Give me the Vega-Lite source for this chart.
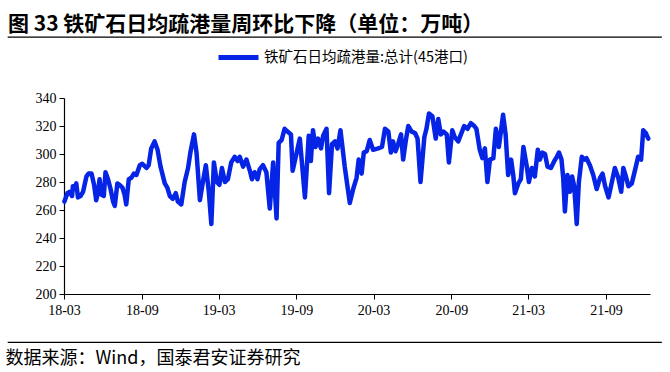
{
  "$schema": "https://vega.github.io/schema/vega-lite/v6.json",
  "autosize": {"type": "none"},
  "padding": {"left": 64, "top": 98, "right": 20, "bottom": 78},
  "width": 586,
  "height": 196,
  "background": "white",
  "config": {"view": {"stroke": null}, "font": "Liberation Serif", "axisY": {"labelOverlap": false}},
  "title": {
    "text": "图 33 铁矿石日均疏港量周环比下降（单位：万吨）",
    "anchor": "start",
    "frame": "group",
    "font": "Noto Sans CJK SC",
    "fontSize": 21,
    "fontWeight": "bold",
    "color": "black",
    "dx": -56,
    "offset": 0
  },
  "resolve": {"axis": {"x": "independent", "y": "independent"}},
  "layer": [
    {
      "data": {"values": [{}]},
      "mark": {"type": "rule", "color": "black", "strokeWidth": 1.4},
      "encoding": {
        "x": {"datum": {"year": 2017, "month": 10, "date": 19, "utc": true}, "type": "temporal", "axis": null},
        "x2": {"datum": {"year": 2022, "month": 1, "date": 11, "utc": true}},
        "y": {"datum": 383.5, "type": "quantitative", "axis": null}
      }
    },
    {
      "data": {"values": [{}]},
      "mark": {"type": "rule", "color": "black", "strokeWidth": 1.3},
      "encoding": {
        "x": {"datum": {"year": 2017, "month": 10, "date": 19, "utc": true}, "type": "temporal", "axis": null},
        "x2": {"datum": {"year": 2022, "month": 1, "date": 11, "utc": true}},
        "y": {"datum": 165.5, "type": "quantitative", "axis": null}
      }
    },
    {
      "data": {"values": [
        {"d":"2018-03-02","v":266},{"d":"2018-03-09","v":272},{"d":"2018-03-14","v":273},{"d":"2018-03-20","v":270},{"d":"2018-03-22","v":277},{"d":"2018-03-26","v":275},{"d":"2018-03-30","v":279},{"d":"2018-04-03","v":269},{"d":"2018-04-09","v":270},{"d":"2018-04-15","v":273},{"d":"2018-04-23","v":284},{"d":"2018-04-28","v":286},{"d":"2018-05-05","v":286},{"d":"2018-05-11","v":278},{"d":"2018-05-16","v":267},{"d":"2018-05-20","v":272},{"d":"2018-05-24","v":282},{"d":"2018-05-28","v":271},{"d":"2018-06-03","v":270},{"d":"2018-06-07","v":287},{"d":"2018-06-13","v":282},{"d":"2018-06-19","v":275},{"d":"2018-06-25","v":266},{"d":"2018-06-29","v":263},{"d":"2018-07-05","v":279},{"d":"2018-07-10","v":278},{"d":"2018-07-17","v":276},{"d":"2018-07-22","v":271},{"d":"2018-07-26","v":264},{"d":"2018-08-01","v":282},{"d":"2018-08-07","v":283},{"d":"2018-08-13","v":286},{"d":"2018-08-19","v":285},{"d":"2018-08-27","v":292},{"d":"2018-09-02","v":293},{"d":"2018-09-12","v":290},{"d":"2018-09-17","v":292},{"d":"2018-09-23","v":304},{"d":"2018-10-01","v":309},{"d":"2018-10-08","v":303},{"d":"2018-10-15","v":291},{"d":"2018-10-25","v":279},{"d":"2018-10-31","v":276},{"d":"2018-11-06","v":270},{"d":"2018-11-13","v":268},{"d":"2018-11-20","v":272},{"d":"2018-11-25","v":266},{"d":"2018-12-03","v":264},{"d":"2018-12-11","v":280},{"d":"2018-12-19","v":290},{"d":"2018-12-25","v":302},
        {"d":"2019-01-02","v":314},{"d":"2019-01-08","v":301},{"d":"2019-01-16","v":267},{"d":"2019-01-23","v":280},{"d":"2019-01-30","v":292},{"d":"2019-02-06","v":273},{"d":"2019-02-12","v":250},{"d":"2019-02-18","v":294},{"d":"2019-02-25","v":280},{"d":"2019-03-03","v":278},{"d":"2019-03-09","v":290},{"d":"2019-03-16","v":280},{"d":"2019-03-23","v":282},{"d":"2019-03-31","v":294},{"d":"2019-04-08","v":298},{"d":"2019-04-15","v":295},{"d":"2019-04-20","v":298},{"d":"2019-04-28","v":291},{"d":"2019-05-06","v":296},{"d":"2019-05-14","v":288},{"d":"2019-05-19","v":282},{"d":"2019-05-25","v":287},{"d":"2019-06-01","v":282},{"d":"2019-06-06","v":289},{"d":"2019-06-14","v":292},{"d":"2019-06-22","v":287},{"d":"2019-06-30","v":261},{"d":"2019-07-08","v":294},{"d":"2019-07-16","v":254},{"d":"2019-07-21","v":308},{"d":"2019-07-28","v":310},{"d":"2019-08-04","v":318},{"d":"2019-08-11","v":316},{"d":"2019-08-19","v":314},{"d":"2019-08-23","v":288},{"d":"2019-09-09","v":311},{"d":"2019-09-21","v":269},{"d":"2019-09-30","v":313},{"d":"2019-10-05","v":295},{"d":"2019-10-10","v":317},{"d":"2019-10-16","v":305},{"d":"2019-10-22","v":311},{"d":"2019-10-29","v":304},{"d":"2019-11-03","v":313},{"d":"2019-11-11","v":318},{"d":"2019-11-17","v":272},{"d":"2019-11-24","v":307},{"d":"2019-12-01","v":309},{"d":"2019-12-07","v":304},{"d":"2019-12-14","v":317},{"d":"2019-12-24","v":291},
        {"d":"2020-01-05","v":265},{"d":"2020-01-13","v":275},{"d":"2020-01-21","v":283},{"d":"2020-01-26","v":296},{"d":"2020-02-02","v":286},{"d":"2020-02-07","v":301},{"d":"2020-02-14","v":302},{"d":"2020-02-21","v":310},{"d":"2020-02-29","v":303},{"d":"2020-03-12","v":304},{"d":"2020-03-21","v":305},{"d":"2020-03-28","v":318},{"d":"2020-04-05","v":316},{"d":"2020-04-11","v":301},{"d":"2020-04-16","v":309},{"d":"2020-04-22","v":302},{"d":"2020-04-28","v":307},{"d":"2020-05-05","v":314},{"d":"2020-05-10","v":296},{"d":"2020-05-16","v":309},{"d":"2020-05-22","v":320},{"d":"2020-05-30","v":316},{"d":"2020-06-07","v":315},{"d":"2020-06-13","v":311},{"d":"2020-06-20","v":280},{"d":"2020-06-29","v":312},{"d":"2020-07-04","v":318},{"d":"2020-07-10","v":329},{"d":"2020-07-18","v":327},{"d":"2020-07-26","v":311},{"d":"2020-08-01","v":325},{"d":"2020-08-07","v":314},{"d":"2020-08-13","v":316},{"d":"2020-08-21","v":314},{"d":"2020-08-26","v":294},{"d":"2020-09-03","v":317},{"d":"2020-09-09","v":312},{"d":"2020-09-17","v":309},{"d":"2020-09-26","v":316},{"d":"2020-10-01","v":320},{"d":"2020-10-09","v":318},{"d":"2020-10-17","v":322},{"d":"2020-10-25","v":320},{"d":"2020-10-30","v":318},{"d":"2020-11-07","v":303},{"d":"2020-11-13","v":297},{"d":"2020-11-19","v":304},{"d":"2020-11-25","v":280},{"d":"2020-12-01","v":296},{"d":"2020-12-09","v":297},{"d":"2020-12-15","v":318},{"d":"2020-12-22","v":305},{"d":"2020-12-29","v":321},
        {"d":"2021-01-01","v":328},{"d":"2021-01-07","v":314},{"d":"2021-01-13","v":285},{"d":"2021-01-20","v":296},{"d":"2021-01-25","v":285},{"d":"2021-01-29","v":272},{"d":"2021-02-06","v":279},{"d":"2021-02-12","v":282},{"d":"2021-02-18","v":305},{"d":"2021-02-26","v":291},{"d":"2021-03-03","v":280},{"d":"2021-03-10","v":290},{"d":"2021-03-17","v":284},{"d":"2021-03-24","v":303},{"d":"2021-03-29","v":296},{"d":"2021-04-04","v":301},{"d":"2021-04-10","v":300},{"d":"2021-04-16","v":291},{"d":"2021-04-24","v":290},{"d":"2021-05-02","v":295},{"d":"2021-05-08","v":298},{"d":"2021-05-13","v":301},{"d":"2021-05-19","v":296},{"d":"2021-05-23","v":283},{"d":"2021-05-27","v":259},{"d":"2021-06-02","v":285},{"d":"2021-06-08","v":273},{"d":"2021-06-13","v":284},{"d":"2021-06-18","v":277},{"d":"2021-06-24","v":250},{"d":"2021-06-29","v":280},{"d":"2021-07-06","v":298},{"d":"2021-07-12","v":296},{"d":"2021-07-17","v":297},{"d":"2021-07-25","v":292},{"d":"2021-08-02","v":285},{"d":"2021-08-10","v":275},{"d":"2021-08-18","v":283},{"d":"2021-08-24","v":286},{"d":"2021-08-30","v":277},{"d":"2021-09-07","v":269},{"d":"2021-09-15","v":280},{"d":"2021-09-22","v":290},{"d":"2021-09-30","v":283},{"d":"2021-10-07","v":273},{"d":"2021-10-12","v":290},{"d":"2021-10-18","v":284},{"d":"2021-10-24","v":277},{"d":"2021-11-01","v":279},{"d":"2021-11-09","v":289},{"d":"2021-11-16","v":298},{"d":"2021-11-23","v":296},{"d":"2021-11-28","v":317},{"d":"2021-12-04","v":315},{"d":"2021-12-10","v":311}
      ]},
      "mark": {"type": "line", "strokeWidth": 4.5, "strokeJoin": "round", "strokeCap": "round"},
      "encoding": {
        "x": {
          "field": "d",
          "type": "temporal",
          "scale": {"type": "utc", "domain": [{"year": 2018, "month": 3, "date": 1, "utc": true}, {"year": 2021, "month": 12, "date": 14, "utc": true}]},
          "axis": {
            "values": [
              {"year": 2018, "month": 3, "date": 1, "utc": true},
              {"year": 2018, "month": 9, "date": 1, "utc": true},
              {"year": 2019, "month": 3, "date": 1, "utc": true},
              {"year": 2019, "month": 9, "date": 1, "utc": true},
              {"year": 2020, "month": 3, "date": 1, "utc": true},
              {"year": 2020, "month": 9, "date": 1, "utc": true},
              {"year": 2021, "month": 3, "date": 1, "utc": true},
              {"year": 2021, "month": 9, "date": 1, "utc": true}
            ],
            "format": "%y-%m",
            "grid": false,
            "domainColor": "black",
            "domainWidth": 1.2,
            "tickColor": "black",
            "tickSize": 5,
            "labelFont": "Liberation Serif",
            "labelFontSize": 14,
            "labelColor": "black",
            "labelPadding": 4,
            "labelFlush": false,
            "labelOverlap": false,
            "title": "数据来源：Wind，国泰君安证券研究",
            "titleFont": "Noto Sans CJK SC",
            "titleFontSize": 18,
            "titleFontWeight": "normal",
            "titleColor": "black",
            "titleAlign": "left",
            "titleBaseline": "middle",
            "titleX": -59,
            "titleY": 64
          }
        },
        "y": {
          "field": "v",
          "type": "quantitative",
          "scale": {"domain": [200, 340], "nice": false, "zero": false},
          "axis": {
            "values": [200, 220, 240, 260, 280, 300, 320, 340],
            "grid": false,
            "domainColor": "black",
            "domainWidth": 1.2,
            "tickColor": "black",
            "tickSize": 5,
            "labelFont": "Liberation Serif",
            "labelFontSize": 14,
            "labelColor": "black",
            "labelPadding": 3,
            "labelOverlap": false,
            "labelFlush": false,
            "title": null
          }
        },
        "color": {
          "datum": "铁矿石日均疏港量:总计(45港口)",
          "scale": {"range": ["#0524E6"]},
          "legend": {
            "title": null,
            "orient": "none",
            "legendX": 152,
            "legendY": -63,
            "symbolType": "stroke",
            "symbolStrokeWidth": 5,
            "symbolSize": 1600,
            "labelFont": "Noto Sans CJK SC",
            "labelFontSize": 14.5,
            "labelLimit": 500,
            "labelColor": "black",
            "labelOffset": 3
          }
        }
      }
    }
  ]
}
